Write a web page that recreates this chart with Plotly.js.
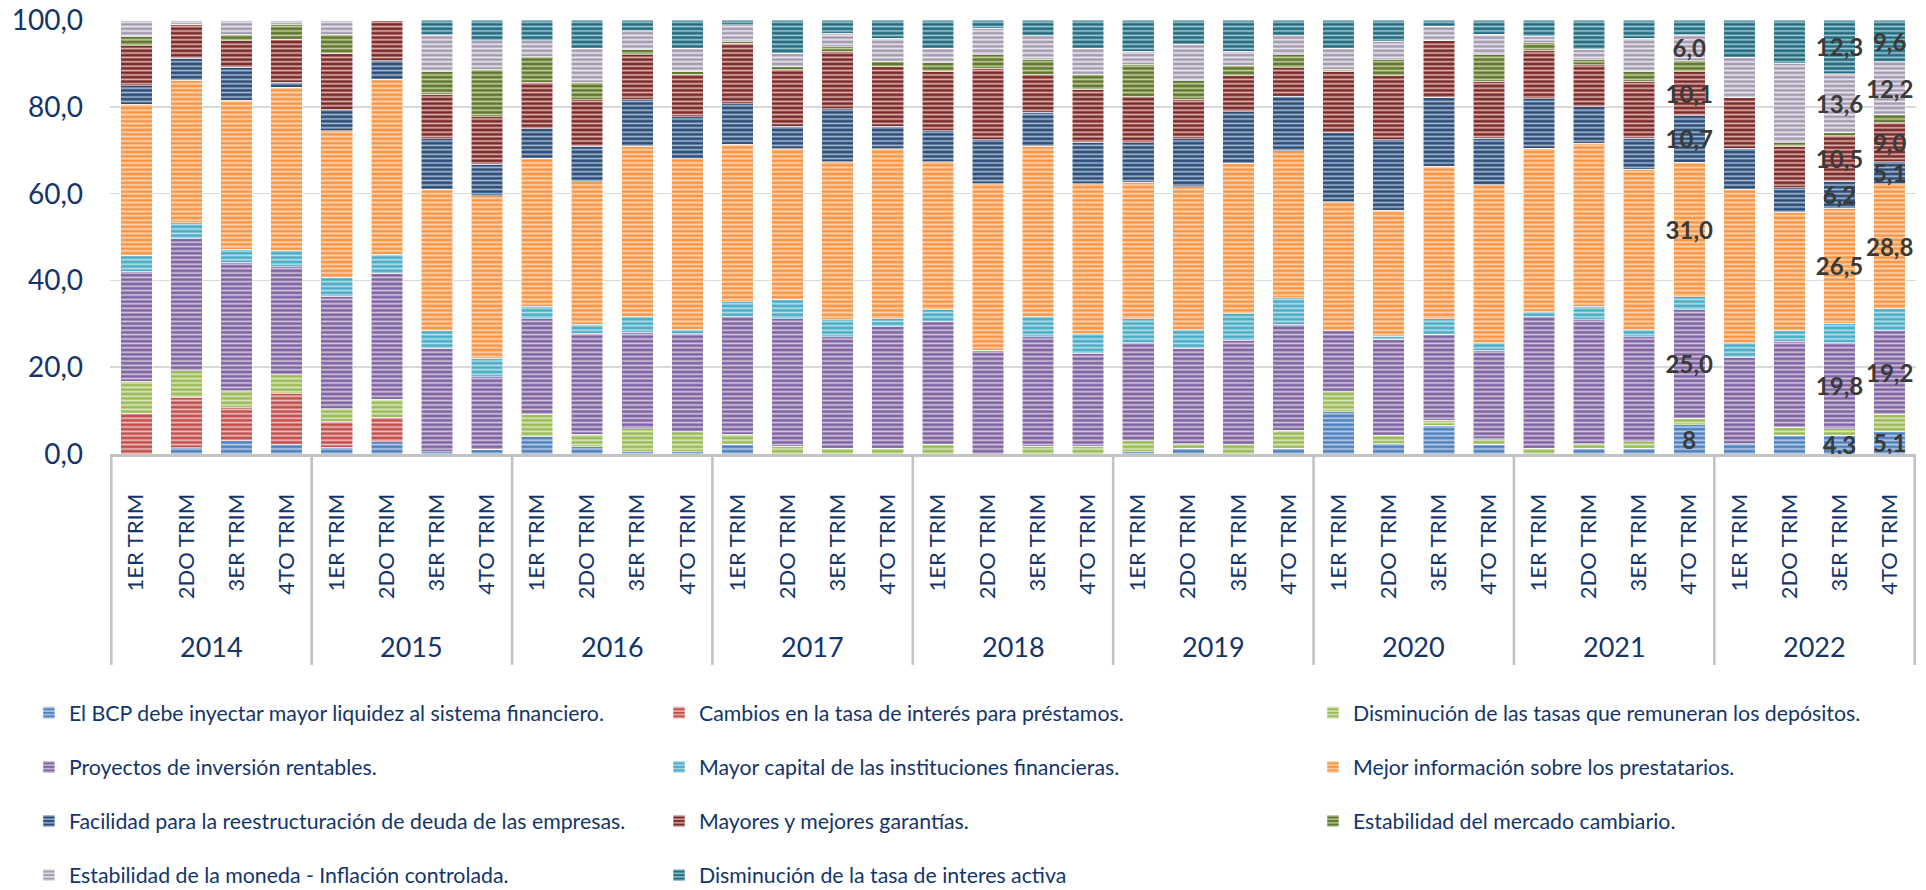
<!DOCTYPE html>
<html>
<head>
<meta charset="utf-8">
<script src="https://cdn.plot.ly/plotly-3.0.1.min.js"></script>
<style>
  html, body { margin: 0; padding: 0; background: #ffffff; }
  #chart { width: 1926px; height: 890px; }
</style>
</head>
<body>
<div id="chart"></div>
<script>
// ---- Data ----
const years = ['2014', '2015', '2016', '2017', '2018', '2019', '2020', '2021', '2022'];
const quarters = ['1ER TRIM', '2DO TRIM', '3ER TRIM', '4TO TRIM'];

const seriesNames = [
  'El BCP debe inyectar mayor liquidez al sistema financiero.',
  'Cambios en la tasa de interés para préstamos.',
  'Disminución de las tasas que remuneran los depósitos.',
  'Proyectos de inversión rentables.',
  'Mayor capital de las instituciones financieras.',
  'Mejor información sobre los prestatarios.',
  'Facilidad para la reestructuración de deuda de las empresas.',
  'Mayores y mejores garantías.',
  'Estabilidad del mercado cambiario.',
  'Estabilidad de la moneda - Inflación controlada.',
  'Disminución de la tasa de interes activa'
];

const liquidezBCP = [0, 1.5, 3.0, 2.1, 1.5, 2.8, 0.5, 1.1, 4.0, 1.7, 0.5, 0.5, 2.2, 0, 0, 0, 0, 0, 0, 0, 0.5, 1.3, 0, 1.3, 9.7, 2.4, 6.6, 2.3, 0, 1.3, 1.3, 6.8, 2.4, 4.3, 4.3, 5.1];
const cambiosTasa = [9.3, 11.6, 7.6, 11.8, 6.0, 5.7, 0, 0, 0, 0, 0, 0, 0, 0, 0, 0, 0, 0, 0, 0, 0, 0, 0, 0, 0, 0, 0, 0, 0, 0, 0, 0, 0, 0, 0, 0];
const disminucionDepositos = [7.5, 6.1, 4.0, 4.4, 2.9, 4.1, 0, 0, 5.2, 2.9, 5.3, 4.6, 2.4, 1.8, 1.3, 1.3, 2.3, 0, 1.8, 1.8, 2.5, 1.1, 2.1, 4.2, 4.6, 1.9, 1.2, 1.2, 1.3, 1.1, 1.5, 1.5, 0, 1.9, 1.5, 4.1];
const proyectosRentables = [25.3, 30.5, 29.6, 24.9, 26.0, 29.1, 23.9, 16.7, 22.0, 23.2, 22.3, 22.6, 27.0, 29.4, 25.7, 28.0, 28.2, 23.9, 25.2, 21.4, 22.7, 22.0, 24.2, 24.4, 14.1, 22.1, 19.8, 20.4, 30.3, 28.6, 24.2, 25.0, 19.9, 19.8, 19.8, 19.2];
const mayorCapital = [3.7, 3.7, 3.0, 3.6, 4.4, 4.3, 4.0, 4.3, 2.9, 2.1, 3.5, 1.0, 3.5, 4.5, 4.0, 1.9, 2.8, 0, 4.6, 4.5, 5.5, 4.3, 6.1, 6.1, 0, 0.8, 3.6, 1.8, 1.2, 3.1, 1.6, 3.0, 3.4, 2.4, 4.6, 5.1];
const mejorInformacion = [34.8, 32.8, 34.3, 37.7, 33.7, 40.4, 32.6, 37.4, 34.1, 32.9, 39.3, 39.4, 36.3, 34.7, 36.4, 39.2, 34.1, 38.4, 39.3, 34.6, 31.5, 32.9, 34.7, 33.9, 29.7, 29.0, 35.1, 36.4, 37.7, 37.5, 37.1, 31.0, 35.3, 27.3, 26.5, 28.8];
const facilidadDeuda = [4.3, 5.1, 7.6, 1.2, 4.9, 4.3, 11.7, 7.3, 6.9, 8.1, 10.8, 9.6, 9.4, 5.1, 12.2, 5.1, 7.1, 10.1, 7.9, 9.6, 9.0, 11.1, 11.9, 12.6, 16.0, 16.2, 16.0, 10.7, 11.4, 8.4, 7.1, 10.7, 9.5, 5.6, 6.2, 5.1];
const mayoresGarantias = [9.2, 7.9, 6.1, 9.9, 13.0, 9.3, 10.2, 10.9, 10.7, 10.8, 10.3, 9.7, 13.9, 13.1, 13.3, 13.8, 13.7, 16.5, 8.6, 12.2, 10.7, 9.1, 8.3, 6.5, 14.1, 14.8, 13.1, 13.1, 11.2, 9.7, 13.1, 10.1, 11.8, 9.6, 10.5, 9.0];
const estabilidadCambiario = [2.1, 0, 1.5, 3.5, 4.4, 0, 5.3, 11.0, 5.9, 4.0, 1.3, 0.8, 0.5, 0.7, 1.0, 1.2, 2.0, 3.1, 3.6, 3.5, 7.4, 4.2, 2.4, 3.0, 0.5, 3.7, 0, 6.1, 1.7, 1.2, 2.3, 2.5, 0, 0.8, 0.7, 1.8];
const estabilidadMoneda = [3.8, 0.9, 3.2, 0.9, 3.2, 0, 8.4, 6.6, 3.7, 7.8, 4.3, 5.3, 3.7, 3.1, 3.1, 5.3, 3.3, 6.1, 5.4, 5.9, 3.0, 8.5, 3.2, 4.4, 4.8, 4.3, 3.2, 4.8, 1.5, 2.4, 7.6, 6.0, 9.2, 18.3, 13.6, 12.2];
const tasaActiva = [0, 0, 0, 0, 0, 0, 3.4, 4.7, 4.7, 6.5, 2.4, 6.5, 1.1, 7.6, 3.0, 4.2, 6.5, 1.9, 3.6, 6.5, 7.2, 5.5, 7.2, 3.6, 6.5, 4.8, 1.4, 3.2, 3.7, 6.7, 4.2, 3.4, 8.5, 9.9, 12.3, 9.6];

// data labels shown on the picture (bar index -> text)
const labelsBCP = {31: '8', 34: '4,3', 35: '5,1'};
const labelsProyectos = {31: '25,0', 34: '19,8', 35: '19,2'};
const labelsInformacion = {31: '31,0', 34: '26,5', 35: '28,8'};
const labelsFacilidad = {31: '10,7', 34: '6,2', 35: '5,1'};
const labelsGarantias = {31: '10,1', 34: '10,5', 35: '9,0'};
const labelsMoneda = {31: '6,0', 34: '13,6', 35: '12,2'};
const labelsActiva = {34: '12,3', 35: '9,6'};

// ---- Styling ----
const seriesValues = [liquidezBCP, cambiosTasa, disminucionDepositos, proyectosRentables, mayorCapital,
  mejorInformacion, facilidadDeuda, mayoresGarantias, estabilidadCambiario, estabilidadMoneda, tasaActiva];
const seriesLabels = [labelsBCP, {}, {}, labelsProyectos, {}, labelsInformacion, labelsFacilidad,
  labelsGarantias, {}, labelsMoneda, labelsActiva];
const mainColors = ['#4F81BD', '#C0504D', '#9BBB59', '#8064A2', '#4BACC6', '#F79646',
  '#2C4D75', '#772C2A', '#5F7530', '#A59BB1', '#276A7C'];
const stripeColors = ['#BCD0E8', '#F0C0BE', '#DCE8C2', '#D2C7E0', '#B8E0EA', '#FDD7B6',
  '#A6BBD5', '#E2B2B0', '#C3D1A0', '#EDEAF0', '#9ACBD8'];
// legend column for each series (three columns, like the original)
const legendIds = ['legend', 'legend2', 'legend3', 'legend', 'legend2', 'legend3',
  'legend', 'legend2', 'legend3', 'legend', 'legend2'];

const navy = '#14356A';
const fontFam = 'Lato, "Open Sans", sans-serif';

const categories = [];
const tickText = [];
years.forEach(y => quarters.forEach(q => { categories.push(y + ' ' + q); tickText.push(q); }));

const traces = seriesNames.map((name, i) => ({
  type: 'bar',
  name: name,
  x: categories,
  y: seriesValues[i],
  legend: legendIds[i],
  legendgroup: 'g' + i,
  text: categories.map((c, k) => seriesLabels[i][k] || ''),
  textposition: 'inside',
  insidetextanchor: 'middle',
  textangle: 0,
  constraintext: 'none',
  cliponaxis: false,
  textfont: {family: fontFam, size: 24, color: '#3A3A3A', weight: 'bold'},
  hoverinfo: 'skip',
  marker: {
    color: mainColors[i],
    line: {color: 'rgba(255,255,255,0.65)', width: 0.8},
    pattern: {shape: '-', bgcolor: mainColors[i], fgcolor: stripeColors[i], size: 4.4, solidity: 0.38, fillmode: 'replace'}
  }
}));

// year group labels and dividers
const annotations = years.map((y, i) => ({
  x: i * quarters.length + (quarters.length - 1) / 2, xref: 'x',
  y: -0.4447, yref: 'paper', yanchor: 'middle', xanchor: 'center',
  text: y, showarrow: false,
  font: {family: fontFam, size: 27, color: navy}
}));
const shapes = [];
for (let i = 0; i <= years.length; i++) {
  shapes.push({
    type: 'line', xref: 'x', yref: 'paper',
    x0: i * quarters.length - 0.5, x1: i * quarters.length - 0.5,
    y0: 0, y1: -0.486,
    line: {color: '#C3C3C3', width: 2.6}
  });
}

const legendBase = {
  orientation: 'v', xanchor: 'left', y: -0.5495, yanchor: 'top',
  traceorder: 'grouped', tracegroupgap: 23.4,
  font: {family: fontFam, size: 21.3, color: navy},
  bgcolor: 'rgba(0,0,0,0)'
};

const layout = {
  width: 1926, height: 890,
  margin: {l: 110, r: 10, t: 20, b: 436, autoexpand: false},
  paper_bgcolor: '#ffffff', plot_bgcolor: '#ffffff',
  barmode: 'stack', barnorm: 'percent', bargap: 0.37,
  separators: ',.',
  showlegend: true,
  xaxis: {
    type: 'category', tickvals: categories, ticktext: tickText,
    tickangle: -90, ticks: '', ticklabelstandoff: 28,
    tickfont: {family: fontFam, size: 22, color: navy},
    showline: true, linecolor: '#C3C3C3', linewidth: 3,
    showgrid: false, zeroline: false, fixedrange: true
  },
  yaxis: {
    range: [0, 100.05], tickvals: [0, 20, 40, 60, 80, 100], tickformat: '.1f',
    ticks: '', ticklabelstandoff: 26, ticklabeloverflow: 'allow',
    tickfont: {family: fontFam, size: 28, color: navy},
    showgrid: true, gridcolor: '#D9D9D9', gridwidth: 1.5,
    zeroline: false, showline: false, fixedrange: true
  },
  legend: Object.assign({}, legendBase, {x: -0.0449}),
  legend2: Object.assign({}, legendBase, {x: 0.304}),
  legend3: Object.assign({}, legendBase, {x: 0.6661}),
  annotations: annotations,
  shapes: shapes
};

Plotly.newPlot('chart', traces, layout, {displayModeBar: false, staticPlot: true});
</script>
</body>
</html>
